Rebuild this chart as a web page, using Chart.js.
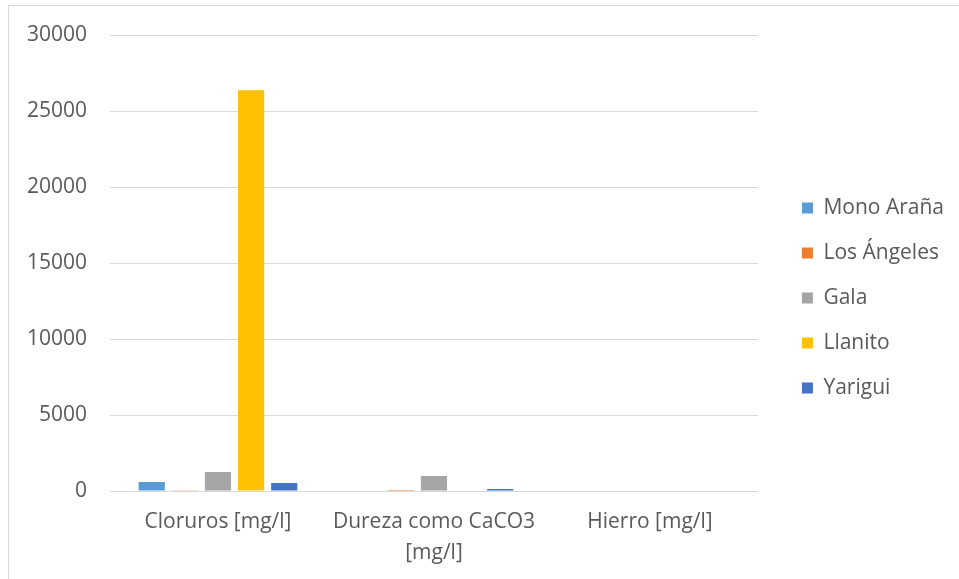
<!DOCTYPE html>
<html>
<head>
<meta charset="utf-8">
<script src="https://cdn.jsdelivr.net/npm/chart.js"></script>
<style>
  body { margin: 0; background: #fff; }
  #box { position: absolute; left: 8px; top: 5px; width: 960px; height: 580px; border: 1px solid #d9d9d9; box-sizing: border-box; }
  #chart { display: block; }
</style>
</head>
<body>
<div id="box"><canvas id="chart" width="950" height="578"></canvas></div>
<script>
console.log("draw water chart");

var categories = ['Cloruros [mg/l]', ['Dureza como CaCO3', '[mg/l]'], 'Hierro [mg/l]'];
var seriesNames = ['Mono Araña', 'Los Ángeles', 'Gala', 'Llanito', 'Yarigui'];
var monoArana = [600, 0, 0];
var losAngeles = [60, 80, 0];
var gala = [1260, 1000, 0];
var llanito = [26380, 0, 0];
var yarigui = [540, 130, 0];
var yTicks = [0, 5000, 10000, 15000, 20000, 25000, 30000];

var colors = ['#5b9bd5', '#ed7d31', '#a5a5a5', '#ffc000', '#4472c4'];
var values = [monoArana, losAngeles, gala, llanito, yarigui];

var datasets = [];
for (var i = 0; i < seriesNames.length; i++) {
  datasets.push({
    label: seriesNames[i],
    data: values[i],
    backgroundColor: colors[i],
    borderWidth: 0,
    categoryPercentage: 0.767,
    barPercentage: 0.79
  });
}

var ctx = document.getElementById('chart').getContext('2d');
var chart = new Chart(ctx, {
  type: 'bar',
  data: { labels: categories, datasets: datasets },
  options: {
    responsive: false,
    animation: false,
    layout: { padding: { left: 18, right: 5, top: 6, bottom: 0 } },
    plugins: {
      tooltip: { enabled: false },
      legend: {
        position: 'right',
        maxWidth: 300,
        labels: {
          boxWidth: 11,
          boxHeight: 11,
          padding: 24,
          color: '#595959',
          font: { family: 'Open Sans', size: 21 }
        }
      }
    },
    scales: {
      x: {
        grid: { display: false, drawTicks: false },
        border: { color: '#d9d9d9', width: 1 },
        ticks: {
          color: '#595959',
          padding: 16,
          maxRotation: 0,
          font: { family: 'Open Sans', size: 21, lineHeight: 1.45 }
        }
      },
      y: {
        min: 0,
        max: 30000,
        afterBuildTicks: function (axis) {
          axis.ticks = yTicks.map(function (v) { return { value: v }; });
        },
        afterFit: function (axis) { axis.width = 83; },
        grid: { color: '#d9d9d9', drawTicks: false },
        border: { display: false },
        ticks: {
          color: '#595959',
          padding: 23,
          font: { family: 'Open Sans', size: 21, lineHeight: 0.6 },
          callback: function (v) { return String(v); }
        }
      },
      gap: {
        position: 'right',
        display: true,
        grid: { display: false, drawTicks: false },
        border: { display: false },
        ticks: { display: false },
        afterFit: function (axis) { axis.width = 20; }
      }
    }
  }
});
</script>
</body>
</html>
